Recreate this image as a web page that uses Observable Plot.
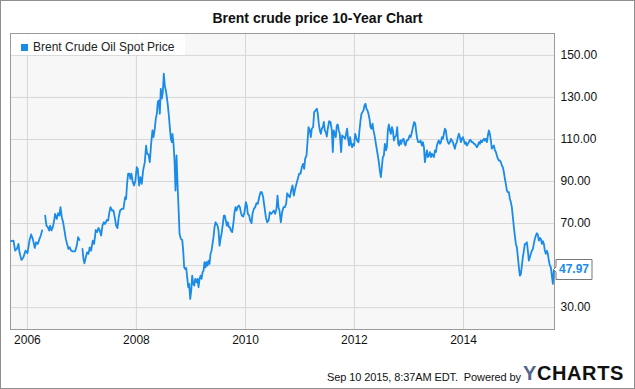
<!DOCTYPE html>
<html>
<head>
<meta charset="utf-8">
<script src="https://cdn.jsdelivr.net/npm/d3@7"></script>
<script src="https://cdn.jsdelivr.net/npm/@observablehq/plot@0.6"></script>
<style>
  html, body { margin: 0; padding: 0; background: #fff; }
  #wrap { position: relative; width: 635px; height: 389px; overflow: hidden; font-family: "Liberation Sans", Arial, sans-serif; color: #111; }
  #wrap svg { position: absolute; left: 0; top: 0; }
  #border { position: absolute; left: 0; top: 0; width: 633px; height: 387px; border: 1px solid #8f8f8f; pointer-events: none; }
  #title { position: absolute; left: 0; width: 635px; top: 11px; text-align: center; font-size: 14px; line-height: 14px; font-weight: bold; color: #111; }
  #legend { position: absolute; left: 11px; top: 34px; width: 174px; height: 21px; background: rgba(255,255,255,0.85); }
  #legend .sw { position: absolute; left: 10px; top: 9.5px; width: 7px; height: 7px; background: #1a8be8; }
  #legend .lb { position: absolute; left: 22px; top: 7px; font-size: 12px; line-height: 12px; color: #222; white-space: nowrap; }
  #foot { position: absolute; left: 327px; top: 370.5px; font-size: 11px; line-height: 12px; letter-spacing: -0.1px; color: #111; white-space: nowrap; }
  #logo { position: absolute; left: 523px; top: 363px; font-size: 20px; line-height: 20px; font-weight: bold; letter-spacing: 0.6px; color: #111; white-space: nowrap; }
  #logo .y { color: #51658f; }
</style>
</head>
<body>
<div id="wrap">
  <div id="chart"></div>
  <div id="title">Brent crude price 10-Year Chart</div>
  <div id="legend"><div class="sw"></div><div class="lb">Brent Crude Oil Spot Price</div></div>
  <div id="foot">Sep 10 2015, 8:37AM EDT.&nbsp; Powered by</div>
  <div id="logo"><span class="y">Y</span>CHARTS</div>
  <div id="border"></div>
</div>
<script>
// Decimal years and Brent spot price (USD); null = gap in the series
const years = [
2005.701,2005.744,2005.774,2005.805,2005.835,2005.854,2005.891,2005.927,2005.964,2006.001,
2006.037,2006.068,2006.098,2006.135,2006.160,2006.190,2006.221,2006.245,2006.270,2006.300,
2006.325,2006.349,2006.374,2006.398,2006.417,2006.441,2006.465,2006.490,2006.508,2006.539,
2006.563,2006.588,2006.606,2006.631,2006.655,2006.680,2006.704,2006.728,2006.753,2006.777,
2006.802,2006.832,2006.875,2006.906,2006.930,2006.955,2006.980,2007.010,2007.028,2007.046,
2007.071,2007.095,2007.120,2007.144,2007.169,2007.199,2007.224,2007.254,2007.279,2007.303,
2007.328,2007.352,2007.377,2007.401,2007.426,2007.456,2007.481,2007.505,2007.524,2007.554,
2007.579,2007.603,2007.628,2007.652,2007.676,2007.701,2007.732,2007.762,2007.793,2007.811,
2007.829,2007.848,2007.872,2007.891,2007.909,2007.933,2007.957,2007.982,2008.007,2008.025,
2008.050,2008.074,2008.098,2008.123,2008.154,2008.178,2008.196,2008.221,2008.245,2008.270,
2008.294,2008.313,2008.337,2008.355,2008.374,2008.392,2008.410,2008.429,2008.447,2008.465,
2008.484,2008.502,2008.520,2008.539,2008.557,2008.576,2008.594,2008.612,2008.631,2008.649,
2008.661,2008.680,2008.698,2008.716,2008.735,2008.753,2008.771,2008.790,2008.814,2008.839,
2008.857,2008.875,2008.894,2008.912,2008.930,2008.949,2008.967,2008.985,2009.004,2009.022,
2009.040,2009.059,2009.077,2009.102,2009.120,2009.138,2009.157,2009.175,2009.193,2009.212,
2009.230,2009.248,2009.267,2009.285,2009.303,2009.322,2009.340,2009.358,2009.377,2009.395,
2009.413,2009.432,2009.450,2009.469,2009.487,2009.505,2009.524,2009.542,2009.560,2009.585,
2009.603,2009.621,2009.640,2009.658,2009.676,2009.695,2009.713,2009.732,2009.756,2009.780,
2009.799,2009.817,2009.836,2009.854,2009.878,2009.897,2009.915,2009.933,2009.958,2009.982,
2010.007,2010.025,2010.043,2010.068,2010.086,2010.111,2010.129,2010.154,2010.178,2010.202,
2010.227,2010.251,2010.276,2010.300,2010.325,2010.349,2010.374,2010.398,2010.423,2010.447,
2010.472,2010.496,2010.520,2010.545,2010.569,2010.588,2010.606,2010.624,2010.649,2010.673,
2010.698,2010.722,2010.747,2010.765,2010.790,2010.814,2010.839,2010.863,2010.888,2010.912,
2010.936,2010.961,2010.985,2011.010,2011.034,2011.059,2011.077,2011.095,2011.120,2011.138,
2011.157,2011.181,2011.199,2011.218,2011.242,2011.261,2011.285,2011.310,2011.328,2011.346,
2011.365,2011.383,2011.401,2011.420,2011.438,2011.456,2011.475,2011.493,2011.511,2011.536,
2011.560,2011.585,2011.603,2011.621,2011.640,2011.658,2011.676,2011.695,2011.713,2011.731,
2011.756,2011.774,2011.793,2011.811,2011.829,2011.848,2011.866,2011.884,2011.903,2011.921,
2011.939,2011.958,2011.976,2011.994,2012.013,2012.031,2012.050,2012.074,2012.092,2012.111,
2012.129,2012.147,2012.166,2012.184,2012.202,2012.220,2012.239,2012.257,2012.276,2012.294,
2012.312,2012.331,2012.349,2012.374,2012.398,2012.423,2012.447,2012.465,2012.484,2012.502,
2012.520,2012.539,2012.557,2012.575,2012.594,2012.612,2012.631,2012.649,2012.667,2012.686,
2012.704,2012.722,2012.741,2012.765,2012.783,2012.802,2012.820,2012.838,2012.857,2012.875,
2012.900,2012.918,2012.936,2012.955,2012.973,2012.991,2013.010,2013.028,2013.053,2013.071,
2013.095,2013.114,2013.132,2013.150,2013.169,2013.193,2013.211,2013.236,2013.254,2013.273,
2013.291,2013.309,2013.328,2013.346,2013.364,2013.383,2013.401,2013.420,2013.438,2013.456,
2013.475,2013.493,2013.511,2013.530,2013.548,2013.566,2013.585,2013.603,2013.621,2013.640,
2013.658,2013.676,2013.695,2013.713,2013.731,2013.750,2013.768,2013.786,2013.805,2013.823,
2013.841,2013.860,2013.878,2013.896,2013.915,2013.933,2013.952,2013.970,2013.988,2014.007,
2014.025,2014.043,2014.062,2014.080,2014.098,2014.117,2014.135,2014.153,2014.172,2014.190,
2014.208,2014.227,2014.245,2014.264,2014.282,2014.300,2014.319,2014.337,2014.355,2014.374,
2014.392,2014.410,2014.429,2014.447,2014.465,2014.484,2014.502,2014.520,2014.539,2014.557,
2014.576,2014.594,2014.612,2014.631,2014.649,2014.667,2014.686,2014.704,2014.722,2014.741,
2014.759,2014.777,2014.796,2014.814,2014.832,2014.851,2014.869,2014.887,2014.906,2014.924,
2014.942,2014.961,2014.979,2014.998,2015.016,2015.034,2015.053,2015.071,2015.089,2015.108,
2015.126,2015.144,2015.163,2015.181,2015.199,2015.218,2015.236,2015.254,2015.273,2015.291,
2015.309,2015.328,2015.346,2015.364,2015.383,2015.401,2015.420,2015.438,2015.456,2015.475,
2015.493,2015.511,2015.530,2015.548,2015.566,2015.585,2015.603,2015.621,2015.640,2015.658
];
const prices = [
61.6,61.9,57.1,57.9,60.3,56.3,52.7,54.0,57.1,55.9,
61.9,64.8,62.7,58.4,61.1,60.3,62.7,64.3,66.7,null,
73.8,69.0,68.3,66.7,69.0,66.7,68.3,71.4,74.6,72.2,
74.9,73.8,77.8,73.0,70.6,66.7,62.7,60.3,57.9,58.7,
57.1,56.8,56.8,59.5,63.5,62.2,null,57.9,53.2,51.1,
54.0,56.3,55.6,58.7,57.1,61.9,60.3,67.0,65.9,67.9,
66.7,64.3,69.0,70.6,69.8,71.7,71.4,75.4,77.8,76.2,
76.2,73.0,69.0,67.8,73.0,76.2,77.0,77.0,82.5,81.7,
88.9,93.7,93.7,91.3,93.7,89.7,88.1,90.5,96.8,96.0,
88.1,92.1,88.9,95.2,99.2,107.1,103.2,102.9,99.2,107.9,
114.3,111.1,115.1,119.8,122.2,127.8,128.6,122.2,134.1,129.4,
132.5,141.3,135.7,133.3,130.2,126.2,121.4,115.9,110.3,108.7,
112.7,107.9,100.0,85.7,102.4,88.9,77.8,65.1,62.7,62.2,
57.1,49.2,48.4,48.9,44.4,39.7,41.3,34.1,38.1,45.2,
41.3,40.5,43.7,42.1,43.7,39.7,43.7,45.2,43.7,46.8,
47.6,51.6,49.2,51.6,50.0,52.4,50.8,55.6,57.1,60.3,
63.5,68.3,70.6,69.8,69.0,66.7,59.5,62.7,65.1,69.8,
73.8,73.8,71.4,69.0,70.6,68.3,68.3,66.7,65.9,70.6,
75.4,77.8,76.2,77.8,78.6,77.8,75.4,73.8,73.3,75.4,
80.2,78.6,74.6,73.8,71.4,70.2,74.6,77.0,77.8,79.7,
79.4,82.5,84.9,84.9,82.5,77.8,73.0,70.6,71.4,75.4,
74.6,75.4,76.2,74.6,77.0,83.3,77.8,76.2,70.6,75.4,
77.8,77.8,79.4,84.4,83.3,82.5,85.7,88.1,83.3,86.5,
88.9,91.3,93.7,93.7,96.8,98.4,96.0,100.8,102.4,108.7,
115.9,114.3,111.1,115.1,115.9,123.0,123.8,124.6,122.2,117.5,
114.3,112.7,115.1,115.9,118.3,114.3,113.5,111.4,115.1,118.7,
118.3,114.3,104.0,114.3,112.7,111.1,116.7,117.1,114.3,112.7,
104.0,111.9,111.4,111.1,110.3,112.7,115.1,110.3,107.1,111.1,
107.9,106.3,107.9,107.1,112.7,111.1,109.5,108.7,114.3,119.0,
122.2,123.0,123.8,126.2,127.0,124.6,123.8,122.2,119.8,115.9,
115.1,117.5,114.3,111.1,107.1,103.2,99.2,95.2,92.1,96.8,
101.6,102.4,107.9,104.8,106.3,114.3,117.1,114.3,112.7,115.9,
114.3,109.5,111.1,111.9,115.9,107.9,107.1,109.5,107.9,109.8,
110.3,107.9,107.1,109.5,109.5,110.3,111.9,111.1,113.5,115.9,
118.3,117.5,113.5,110.3,108.7,108.7,109.5,107.1,108.7,106.3,
99.2,102.4,104.8,101.6,102.4,104.0,101.6,103.2,102.4,101.6,
104.8,104.0,107.1,108.7,109.5,107.9,108.7,111.1,110.3,112.7,
115.1,114.3,110.3,108.7,107.9,108.7,110.3,109.5,108.7,107.1,
105.6,107.9,108.7,111.1,112.7,111.1,108.7,110.3,111.1,109.5,
107.9,108.7,107.1,107.9,108.7,109.8,109.5,108.7,108.7,107.9,
107.9,107.1,106.3,107.1,108.7,107.9,109.5,108.7,109.5,110.3,
109.5,110.3,108.7,111.9,114.3,112.7,109.5,105.6,106.3,107.1,
104.8,104.0,102.4,100.8,100.0,100.0,99.2,97.6,96.8,94.4,
91.3,88.9,85.7,84.9,84.9,81.7,80.2,77.8,73.0,68.3,
64.3,60.3,58.7,54.0,49.2,45.2,46.0,50.0,54.0,57.1,
60.3,60.3,61.1,57.1,52.4,54.0,55.6,57.1,57.9,60.3,
62.7,64.3,65.4,64.8,61.9,63.2,62.7,60.3,61.6,60.3,
57.1,55.6,57.1,55.6,52.4,50.0,49.2,45.2,41.3,47.97
];
const xDomainYears = [2005.689, 2015.670];
const xTickYears = [2006, 2008, 2010, 2012, 2014];
const yTicks = [30, 50, 70, 90, 110, 130, 150];
const yLabelTicks = [30, 70, 90, 110, 130, 150];
const yDomain = [19.6, 160.4];
const lineColor = "#1a8be8";

function toDate(y) {
  const yr = Math.floor(y);
  const a = Date.UTC(yr, 0, 1), b = Date.UTC(yr + 1, 0, 1);
  return new Date(a + (y - yr) * (b - a));
}
const data = years.map((y, i) => ({date: toDate(y), price: prices[i]}));
const last = data[data.length - 1];
const xTicks = xTickYears.map(y => new Date(Date.UTC(y, 0, 1)));

const marks = [
  Plot.frame({fill: "#f7f7f7", stroke: null}),
  Plot.gridX(xTicks, {stroke: "#d6d6d6", strokeOpacity: 1}),
  Plot.gridY(yTicks, {stroke: "#d6d6d6", strokeOpacity: 1}),
  Plot.frame({stroke: "#9a9a9a"}),
  Plot.axisX(xTicks, {tickSize: 0, tickPadding: 6, tickFormat: d3.utcFormat("%Y"), fontSize: 12, fill: "#111", label: null}),
  Plot.axisY(yLabelTicks, {anchor: "right", tickSize: 0, tickPadding: 6, tickFormat: d3.format(".2f"), fontSize: 12, fill: "#111", label: null}),
  Plot.line(data, {x: "date", y: "price", stroke: lineColor, strokeWidth: 1.8, strokeLinejoin: "round", curve: "linear"})
];
if (Plot.tip) {
  marks.push(Plot.tip([last], {
    x: "date", y: "price", title: d => d.price.toFixed(2), anchor: "left",
    pointerSize: 5, textPadding: 3, fill: "white", stroke: "#777",
    fontSize: 12, fontWeight: "bold", pathFilter: "none"
  }));
}

const chart = Plot.plot({
  width: 635,
  height: 389,
  marginLeft: 10,
  marginRight: 81,
  marginTop: 33,
  marginBottom: 60,
  style: {fontFamily: "Liberation Sans, Arial, sans-serif", fontSize: "12px", background: "transparent", overflow: "visible"},
  x: {type: "utc", domain: xDomainYears.map(toDate), label: null},
  y: {domain: yDomain, label: null},
  marks
});
d3.select(chart).selectAll('g[aria-label="tip"] text').attr("fill", lineColor).style("fill", lineColor);
d3.select(chart).selectAll('g[aria-label="tip"] path').attr("stroke", "#777").style("stroke", "#777");
document.getElementById("chart").appendChild(chart);
</script>
</body>
</html>
